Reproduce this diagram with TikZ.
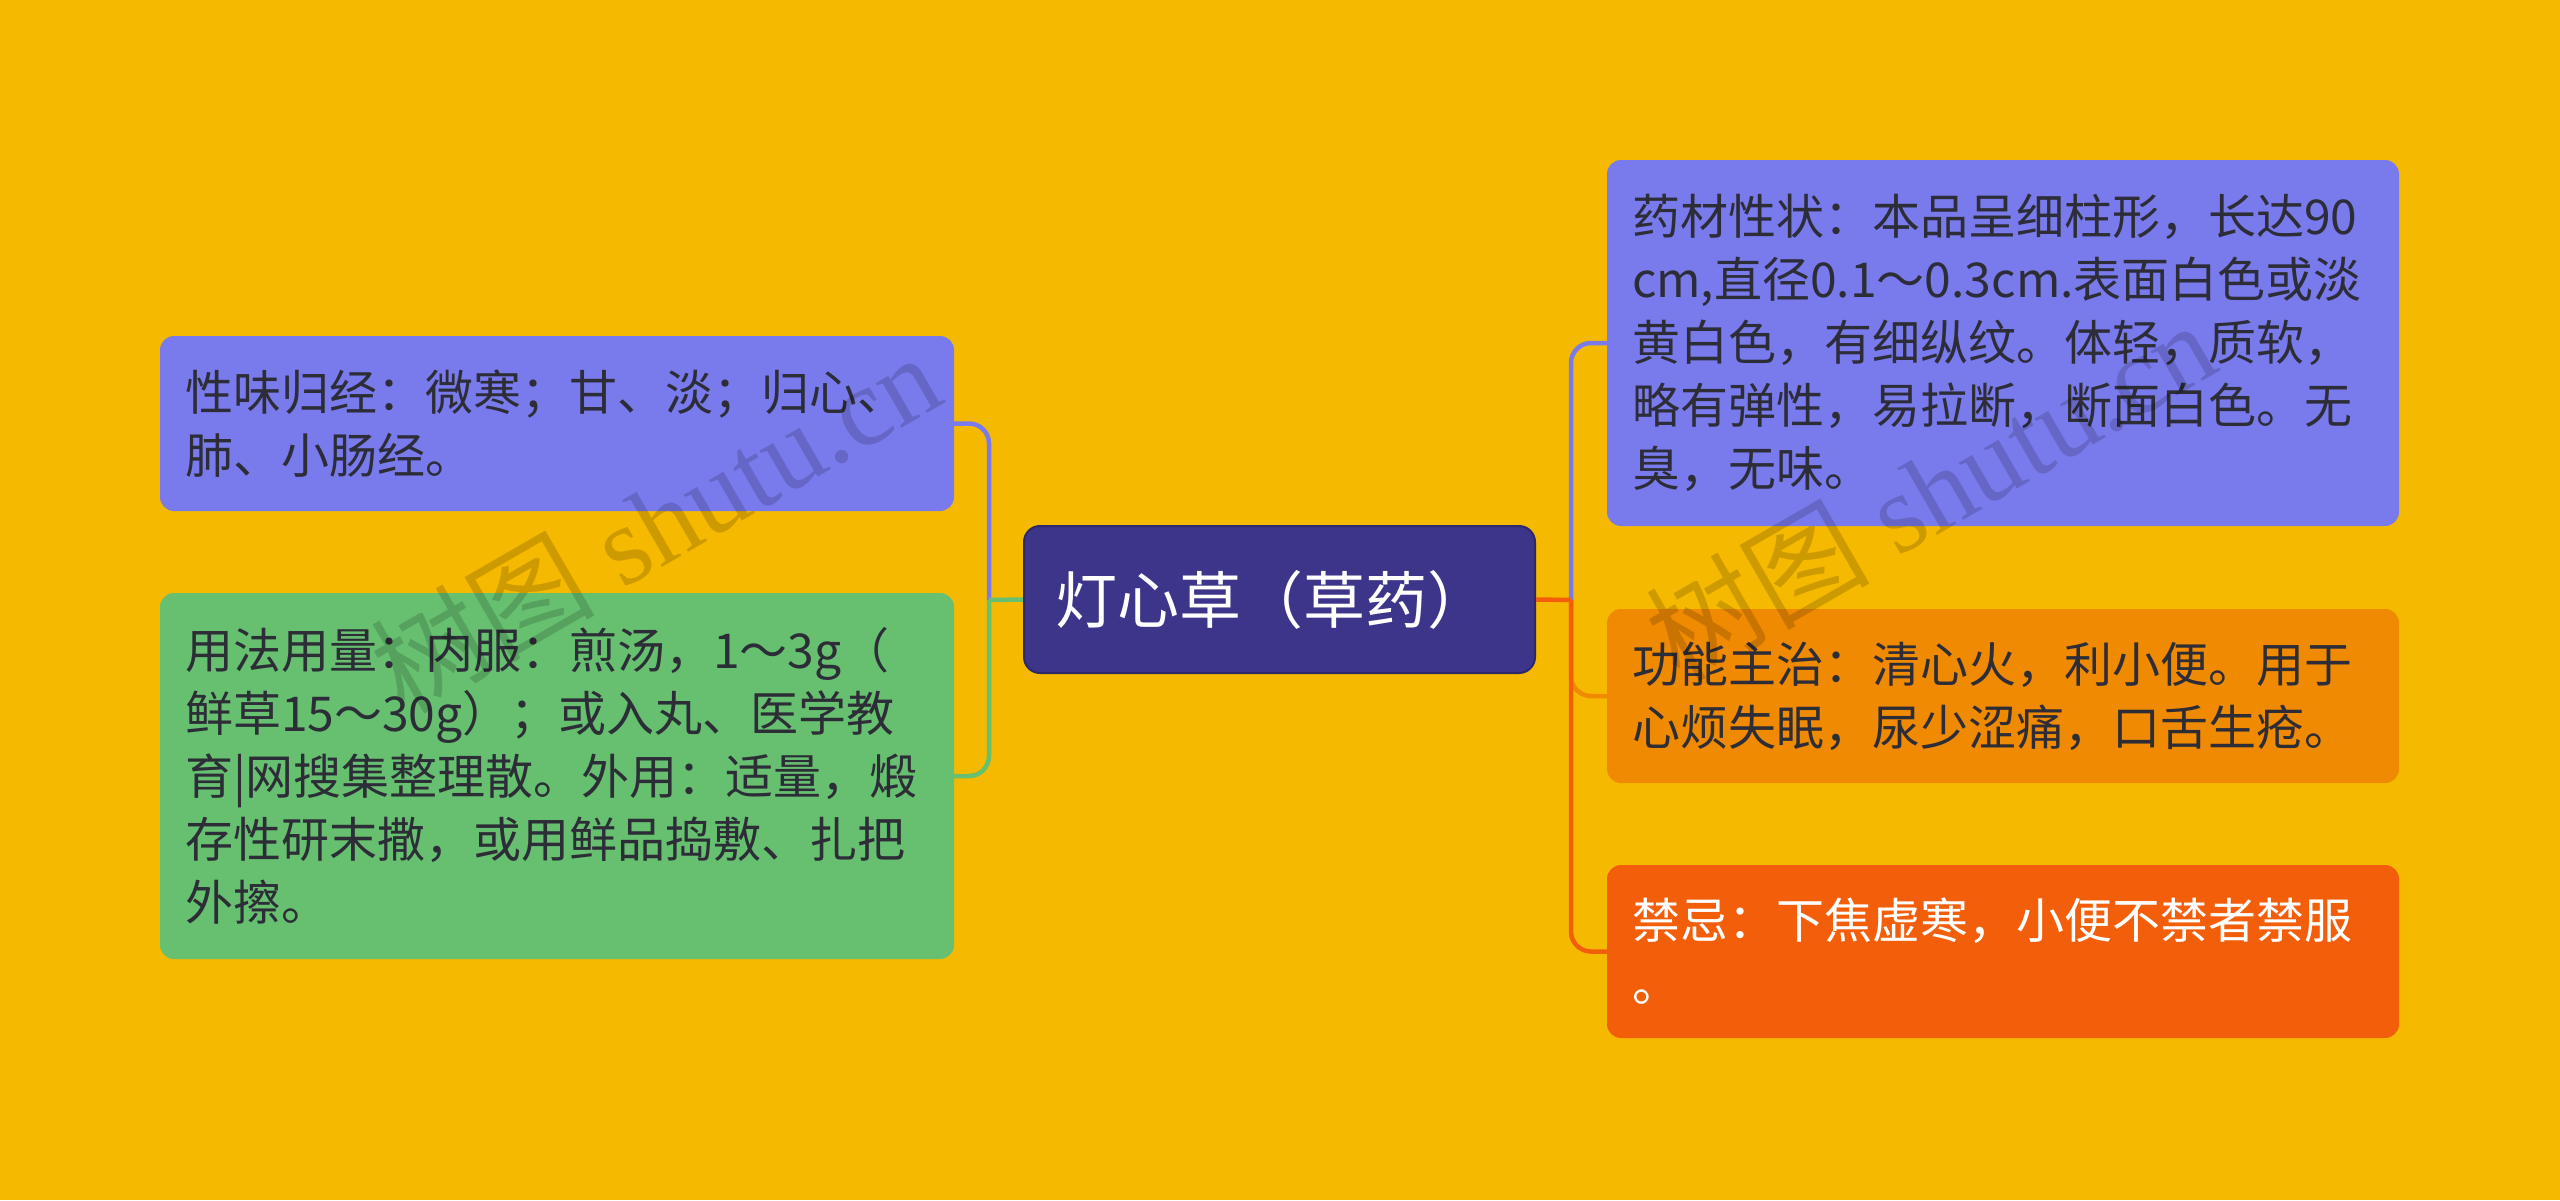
\documentclass[tikz,border=0pt]{standalone}
\usepackage{fontspec}
\setmainfont{Noto Sans CJK SC}
\newfontfamily\wmfont{Liberation Serif}
\newfontfamily\wmcjk{Noto Sans CJK SC}
\definecolor{bgc}{RGB}{245,185,0}
\definecolor{purp}{RGB}{121,122,236}
\definecolor{grn}{RGB}{102,192,112}
\definecolor{navy}{RGB}{61,53,137}
\definecolor{navyb}{RGB}{45,40,105}
\definecolor{orng}{RGB}{240,138,0}
\definecolor{redo}{RGB}{242,94,10}
\definecolor{txt}{RGB}{45,45,55}
\tikzset{
  leaf/.style={rectangle, rounded corners=14pt, inner xsep=25pt, inner ysep=0pt,
    minimum width=794pt, text width=744pt, align=left, text=txt,
    font=\fontsize{48}{63}\selectfont},
  rootbox/.style={rectangle, rounded corners=16pt, draw=navyb, line width=2pt, fill=navy,
    minimum width=511pt, minimum height=147pt, inner xsep=31pt, text width=449pt,
    text=white, align=left, font=\fontsize{62}{72}\selectfont},
  conn/.style={line width=4.5pt, rounded corners=20pt},
  wm/.style={text=black, opacity=0.16, rotate=30, font=\wmfont\fontsize{112}{112}\selectfont}
}
\begin{document}
\begin{tikzpicture}[x=1pt,y=-1pt]
\fill[bgc] (0,0) rectangle (2560,1200);
\useasboundingbox (0,0) rectangle (2560,1200);
% connectors
\coordinate (lj) at (989,600);
\coordinate (rj) at (1571,600);
\node[leaf, fill=purp, minimum height=175pt] (l1) at (557,423.5)
  {性味归经：微寒；甘、淡；归心、\\肺、小肠经。};
\node[leaf, fill=grn, minimum height=366pt] (l2) at (557,776)
  {用法用量：内服：煎汤，1～3g（\\鲜草15～30g）；或入丸、医学教\\育|网搜集整理散。外用：适量，煅\\存性研末撒，或用鲜品捣敷、扎把\\外擦。};
\node[leaf, fill=purp, minimum height=366pt, minimum width=792pt, text width=742pt] (r1) at (2003,343)
  {药材性状：本品呈细柱形，长达90\\cm,直径0.1～0.3cm.表面白色或淡\\黄白色，有细纵纹。体轻，质软，\\略有弹性，易拉断，断面白色。无\\臭，无味。};
\node[leaf, fill=orng, minimum height=174pt, minimum width=792pt, text width=742pt] (r2) at (2003,696)
  {功能主治：清心火，利小便。用于\\心烦失眠，尿少涩痛，口舌生疮。};
\node[leaf, fill=redo, minimum height=173pt, minimum width=792pt, text width=742pt, text=white] (r3) at (2003,951.5)
  {禁忌：下焦虚寒，小便不禁者禁服\\。};
\draw[conn, purp] (lj) |- (l1.east);
\draw[conn, grn] (lj) |- (l2.east);
\draw[conn, purp] (rj) |- (r1.west);
\draw[conn, orng] (rj) |- (r2.west);
\draw[conn, redo] (rj) |- (r3.west);
\node[rootbox] (c) at (1279.5,599.5) {灯心草（草药）};
\draw[conn, grn] (c.west) -- (lj);
\draw[conn, redo] (c.east) -- (rj);
% watermark
\node[wm] (w1) at (655,522) {{\wmcjk 树图} shutu.cn};
\node[wm] (w2) at (1930,490) {{\wmcjk 树图} shutu.cn};
\end{tikzpicture}
\end{document}
